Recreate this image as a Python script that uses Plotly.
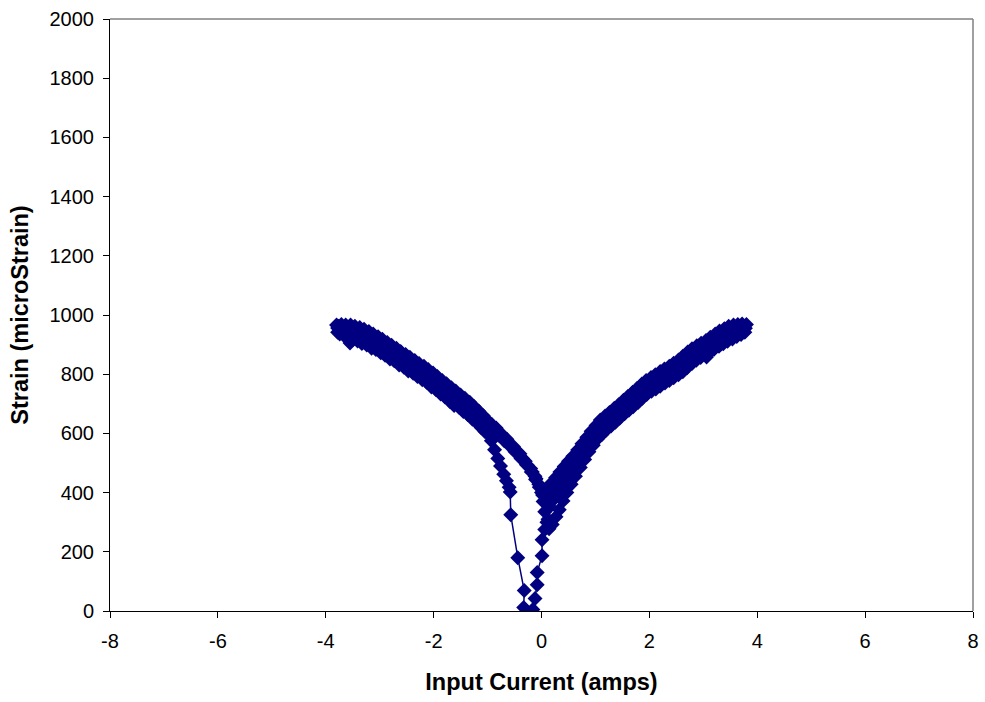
import plotly.graph_objects as go

# Magnetostriction butterfly loop: input current (A) vs strain (microstrain).
# Recorded in successive sweeps; each list pair is one stretch of the record.

# initial magnetisation from zero strain, then out along the negative branch
current_1 = [-0.33, -0.32, -0.44, -0.57, -0.58, -0.60, -0.65, -0.70, -0.76, -0.81, -0.87, -0.93, -1.00,
             -1.05, -1.12, -1.20, -1.28, -1.37, -1.45, -1.53, -1.62, -1.70, -1.79, -1.87, -1.96, -2.04,
             -2.13, -2.21, -2.30, -2.38, -2.47, -2.55, -2.64, -2.73, -2.81, -2.90, -2.98, -3.07, -3.15,
             -3.24, -3.33, -3.41, -3.50, -3.58, -3.66, -3.74, -3.78]
strain_1 = [12, 69, 180, 325, 402, 418, 440, 462, 490, 515, 545, 575, 600,
            606, 620, 636, 648, 664, 674, 688, 694, 708, 723, 733, 748, 757,
            773, 781, 792, 803, 811, 823, 831, 845, 851, 864, 872, 883, 888,
            899, 904, 912, 916, 922, 930, 936, 942]

# negative peak back through zero and up to the positive peak
current_2 = [-3.80, -3.71, -3.63, -3.54, -3.46, -3.37, -3.29, -3.20, -3.12, -3.03, -2.95, -2.86, -2.78,
             -2.69, -2.61, -2.52, -2.44, -2.35, -2.27, -2.18, -2.10, -2.01, -1.93, -1.84, -1.76, -1.67,
             -1.59, -1.50, -1.42, -1.33, -1.25, -1.16, -1.08, -1.00,
             -0.92, -0.84, -0.75, -0.64, -0.52, -0.40, -0.30, -0.20, -0.12, -0.05, 0.00, 0.03, 0.06,
             0.10, 0.14, 0.20, 0.27, 0.33, 0.40, 0.47, 0.55, 0.63, 0.72, 0.80, 0.88, 0.96,
             1.04, 1.12, 1.20, 1.29, 1.37, 1.45, 1.54, 1.62, 1.70, 1.79, 1.87, 1.95, 2.04, 2.12,
             2.20, 2.29, 2.37, 2.45, 2.54, 2.62, 2.70, 2.79, 2.87, 2.95, 3.04, 3.12, 3.20, 3.29,
             3.37, 3.45, 3.54, 3.62, 3.70, 3.77]
strain_2 = [966, 968, 966, 966, 962, 958, 952, 944, 936, 927, 918, 907, 898,
            888, 877, 867, 857, 846, 836, 827, 816, 804, 792, 779, 768, 754,
            743, 730, 719, 705, 691, 675, 660, 644,
            630, 618, 600, 580, 556, 531, 506, 481, 455, 428, 400, 370, 335,
            300, 278, 292, 318, 342, 372, 400, 428, 455, 485, 512, 538, 560,
            582, 596, 611, 625, 638, 651, 666, 678, 690, 704, 719, 731, 742, 750,
            759, 770, 779, 788, 798, 808, 822, 836, 847, 856, 866, 875, 884, 894,
            903, 911, 919, 927, 934, 942]

# positive peak back down and out to the negative peak
current_3 = [3.80, 3.72, 3.64, 3.56, 3.47, 3.39, 3.30, 3.22, 3.13, 3.05, 2.96, 2.88, 2.79, 2.71,
             2.62, 2.54, 2.45, 2.37, 2.28, 2.20, 2.11, 2.03, 1.94, 1.86, 1.77, 1.69, 1.60, 1.52,
             1.43, 1.35, 1.26, 1.18, 1.09, 1.01, 0.92, 0.84, 0.75, 0.67, 0.58, 0.50, 0.42, 0.34,
             0.26, 0.18, 0.10, 0.04,
             -0.03, -0.10, -0.17, -0.26, -0.35, -0.46, -0.58, -0.70, -0.82, -0.93,
             -1.02, -1.10, -1.19, -1.27, -1.36, -1.44, -1.53, -1.61, -1.70, -1.78, -1.87, -1.95,
             -2.04, -2.12, -2.21, -2.29, -2.38, -2.46, -2.55, -2.63, -2.72, -2.80, -2.89, -2.97,
             -3.06, -3.14, -3.23, -3.31, -3.40, -3.48, -3.57, -3.65, -3.72, -3.78]
strain_3 = [968, 970, 968, 966, 962, 954, 946, 936, 925, 914, 905, 896, 886, 875,
            861, 848, 837, 827, 818, 809, 798, 789, 779, 767, 752, 739, 725, 712,
            697, 685, 671, 659, 645, 627, 607, 587, 565, 544, 523, 506, 488, 470,
            450, 432, 414, 400,
            420, 447, 470, 492, 515, 540, 563, 585, 603, 615,
            630, 643, 660, 675, 690, 700, 714, 725, 736, 748, 762, 773,
            787, 797, 810, 818, 829, 838, 849, 858, 869, 879, 890, 900,
            908, 916, 923, 930, 936, 943, 948, 953, 957, 956]

# second full sweep towards the positive peak
current_4 = [-3.76, -3.68, -3.60, -3.55, -3.50, -3.42, -3.33, -3.25, -3.16, -3.08, -2.99, -2.91, -2.82,
             -2.74, -2.65, -2.57, -2.48, -2.40, -2.31, -2.23, -2.14, -2.06, -1.97, -1.89, -1.80, -1.72,
             -1.63, -1.55, -1.46, -1.38, -1.29, -1.21, -1.12, -1.04,
             -0.96, -0.87, -0.78, -0.69, -0.60, -0.49, -0.38, -0.28, -0.19, -0.11, -0.04, 0.02, 0.08,
             0.15, 0.23, 0.31, 0.39, 0.47, 0.55, 0.63, 0.71, 0.79, 0.87, 0.96, 1.04, 1.13, 1.21,
             1.29, 1.38, 1.46, 1.55, 1.63, 1.72, 1.80, 1.89, 1.97, 2.06, 2.14, 2.23, 2.31, 2.40,
             2.48, 2.57, 2.65, 2.74, 2.82, 2.91, 2.99, 3.06, 3.08, 3.16, 3.25, 3.33, 3.42, 3.50,
             3.59, 3.67, 3.75]
strain_4 = [962, 958, 948, 905, 942, 936, 927, 922, 912, 906, 898, 887, 876,
            867, 857, 849, 836, 826, 818, 806, 797, 788, 775, 762, 753, 740,
            727, 716, 704, 692, 678, 661, 646, 628,
            617, 608, 592, 575, 560, 538, 515, 494, 470, 444, 418, 392, 385,
            395, 412, 437, 455, 475, 492, 510, 530, 550, 570, 590, 607, 625, 640,
            651, 665, 678, 693, 705, 720, 735, 748, 760, 768, 777, 788, 797, 806,
            816, 828, 840, 854, 866, 876, 885, 858, 895, 906, 915, 923, 932, 940,
            947, 953, 957]

# final run down from the positive peak and back to zero strain
current_5 = [3.78, 3.70, 3.61, 3.53, 3.44, 3.36, 3.27, 3.19, 3.10, 3.02, 2.93, 2.85, 2.76, 2.68,
             2.59, 2.51, 2.42, 2.34, 2.25, 2.17, 2.08, 2.00, 1.91, 1.83, 1.74, 1.66, 1.57, 1.49,
             1.40, 1.32, 1.23, 1.15, 1.06, 0.98, 0.89, 0.81, 0.72, 0.64, 0.55, 0.47, 0.40, 0.33,
             0.26, 0.20, 0.14, 0.09, 0.12, 0.06, 0.01, 0.01, -0.08, -0.08, -0.12, -0.16]
strain_5 = [955, 950, 943, 935, 928, 918, 912, 902, 893, 882, 872, 862, 850, 838,
            826, 815, 803, 795, 784, 775, 766, 756, 745, 732, 718, 703, 691, 678,
            662, 650, 635, 620, 602, 585, 562, 540, 515, 495, 472, 450, 430, 410,
            390, 372, 355, 340, 310, 275, 241, 187, 130, 89, 42, 5]

current = current_1 + current_2 + current_3 + current_4 + current_5
strain = strain_1 + strain_2 + strain_3 + strain_4 + strain_5

x_ticks = [-8, -6, -4, -2, 0, 2, 4, 6, 8]
y_ticks = [0, 200, 400, 600, 800, 1000, 1200, 1400, 1600, 1800, 2000]

NAVY = "#000080"
FONT = "Liberation Sans, Arial, sans-serif"

fig = go.Figure()
fig.add_trace(go.Scatter(
    x=current, y=strain, mode="lines+markers",
    line=dict(color=NAVY, width=1.5),
    marker=dict(symbol="diamond", size=11.5, color=NAVY, line=dict(width=0)),
    showlegend=False, hoverinfo="x+y",
))

axis_common = dict(
    showgrid=False, zeroline=False, showline=True, linecolor="#000000", linewidth=1,
    ticks="outside", ticklen=6, tickcolor="#000000", tickwidth=1,
    tickfont=dict(family=FONT, size=20, color="#000000"),
)
fig.update_xaxes(
    range=[-8, 8], tickvals=x_ticks, ticktext=[str(v) for v in x_ticks],
    ticklabelstandoff=6,
    title=dict(text="<b>Input Current (amps)</b>", font=dict(family=FONT, size=23.5, color="#000000"),
               standoff=22),
    **axis_common,
)
fig.update_yaxes(
    range=[0, 2000], tickvals=y_ticks, ticktext=[str(v) for v in y_ticks],
    ticklabelstandoff=5,
    title=dict(text="<b>Strain (microStrain)</b>", font=dict(family=FONT, size=23.5, color="#000000"),
               standoff=14),
    **axis_common,
)

# gray frame on the top and right of the plot area
fig.add_shape(type="line", xref="paper", yref="paper", x0=0, x1=1, y0=1, y1=1,
              line=dict(color="#808080", width=1.5))
fig.add_shape(type="line", xref="paper", yref="paper", x0=1, x1=1, y0=0, y1=1,
              line=dict(color="#808080", width=1.5))

fig.update_layout(
    width=985, height=702,
    margin=dict(l=110, r=12, t=19, b=91, autoexpand=False),
    paper_bgcolor="#ffffff", plot_bgcolor="#ffffff",
    font=dict(family=FONT),
)

fig.write_html("out.html")
